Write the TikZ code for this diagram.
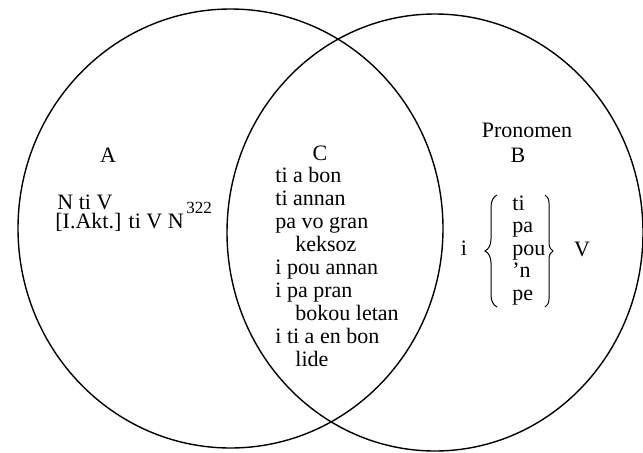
\documentclass[tikz,border=0pt]{standalone}
\usepackage{fontspec}
\setmainfont{Liberation Serif}
\usetikzlibrary{decorations.pathreplacing}

\begin{document}
\begin{tikzpicture}[x=5pt,y=5pt,
        txt/.style={font=\fontsize{11}{13}\selectfont,inner sep=0pt},
        setline/.style={line width=0.7pt},
        curly/.style={decorate,decoration={brace,amplitude=#1},line width=0.5pt}]
        \useasboundingbox (0,0) rectangle (64.3,45.2);
        % the two sets
        \draw[setline] (23.05,22.35) ellipse [x radius=21.25,y radius=21.95];
        \draw[setline] (43.5,21.95) ellipse [x radius=20.8,y radius=21.85];
        % set names
        \node[txt,anchor=base] (nameA) at (10.8,29.0) {A};
        \node[txt,anchor=base] (nameC) at (32.0,29.2) {C};
        \node[txt,anchor=base] (pronomen) at (52.7,31.5) {Pronomen};
        \node[txt,anchor=base] (nameB) at (51.8,29.0) {B};
        % set A
        \node[txt,anchor=base west] (a1) at (5.7,24.3) {N ti V};
        \node[txt,anchor=base west] (a2) at (5.5,22.4) {[I.Akt.] ti V N};
        \node[txt,anchor=base west,font=\fontsize{8.5}{10}\selectfont] (note) at (18.6,23.9) {322};
        % set C
        \foreach \t/\x/\y [count=\i] in {ti a bon/27.5/27.0, ti annan/27.5/24.7,
            pa vo gran/27.5/22.4, keksoz/29.5/20.1, i pou annan/27.5/17.8,
            i pa pran/27.5/15.5, bokou letan/29.5/13.2, i ti a en bon/27.5/10.9,
            lide/29.5/8.6}
            \node[txt,anchor=base west] (c\i) at (\x,\y) {\t};
        % set B
        \foreach \t [count=\i] in {ti,pa,pou,’n,pe}
            \node[txt,anchor=base west] (b\i) at (51.2,26.45-2.25*\i) {\t};
        \node[txt,anchor=base] (subj) at (46.4,19.7) {i};
        \node[txt,anchor=base] (verb) at (58.2,19.6) {V};
        \draw[curly=6pt] (49.7,14.5) -- (49.7,25.7);
        \draw[curly=4pt] (54.5,25.7) -- (54.5,14.5);
    \end{tikzpicture}
\end{document}
